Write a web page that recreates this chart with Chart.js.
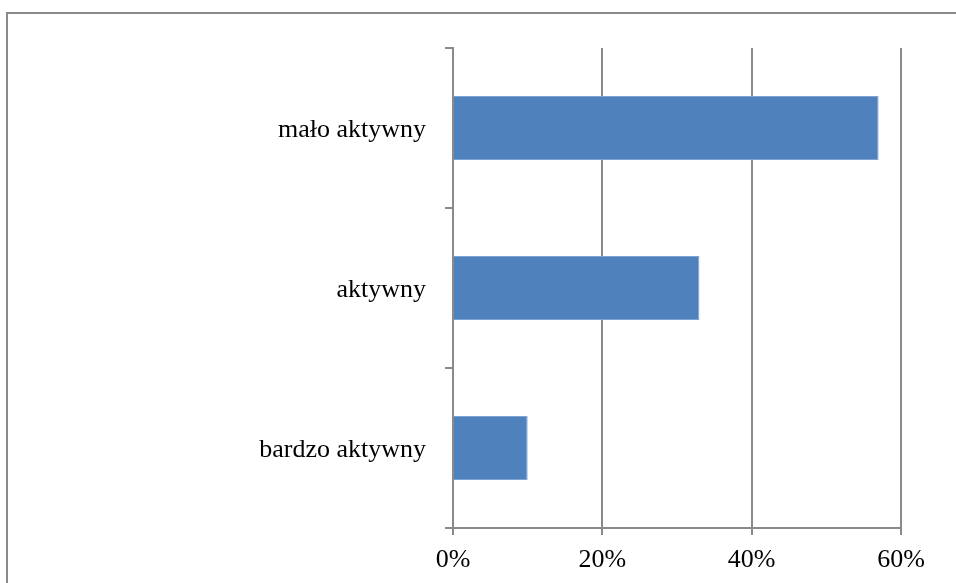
<!DOCTYPE html>
<html>
<head>
<meta charset="utf-8">
<script src="https://cdn.jsdelivr.net/npm/chart.js@4"></script>
<style>
  html, body { margin: 0; padding: 0; background: #fff; overflow: hidden; }
  #wrap { position: relative; width: 956px; height: 583px; }
  #ramka {
    position: absolute; left: 6px; top: 12px; width: 1000px; height: 700px;
    border: 2px solid #8a8a8a; box-sizing: border-box;
  }
  canvas { position: absolute; left: 0; top: 0; }
</style>
</head>
<body>
<div id="wrap">
  <div id="ramka"></div>
  <canvas id="wykres" width="956" height="583"></canvas>
</div>
<script>
// Dane
const kategorie = ["mało aktywny", "aktywny", "bardzo aktywny"];
const wartosci = [57, 33, 10];
const podzialka = [0, 20, 40, 60];

const szary = '#8a8a8a';
const czcionka = { family: '"Liberation Serif", "Times New Roman", serif', size: 26 };

const ctx = document.getElementById('wykres').getContext('2d');
new Chart(ctx, {
    type: 'bar',
    data: {
        labels: kategorie,
        datasets: [{
            data: wartosci,
            backgroundColor: '#4f81bd',
            borderColor: '#7fa3d3',
            borderWidth: 1,
            barPercentage: 0.4,
            categoryPercentage: 1
        }]
    },
    options: {
        indexAxis: 'y',
        responsive: false,
        animation: false,
        layout: { padding: { left: 0, top: 48, right: 55, bottom: 0 } },
        plugins: {
            legend: { display: false },
            tooltip: { enabled: false }
        },
        scales: {
            x: {
                min: podzialka[0],
                max: podzialka[podzialka.length - 1],
                afterBuildTicks: (s) => { s.ticks = podzialka.map(v => ({ value: v })); },
                afterFit: (s) => { s.height = 55; },
                ticks: {
                    color: '#000',
                    font: czcionka,
                    padding: 10,
                    callback: (v) => v + '%'
                },
                grid: { color: szary, lineWidth: 2, tickLength: 7 },
                border: { display: true, color: szary, width: 2 }
            },
            y: {
                afterFit: (s) => { s.width = 453; },
                ticks: { color: '#000', font: czcionka, padding: 19, labelOffset: 2 },
                grid: { drawOnChartArea: false, color: szary, lineWidth: 2, tickLength: 8 },
                border: { display: true, color: szary, width: 2 }
            }
        }
    }
});
</script>
</body>
</html>
